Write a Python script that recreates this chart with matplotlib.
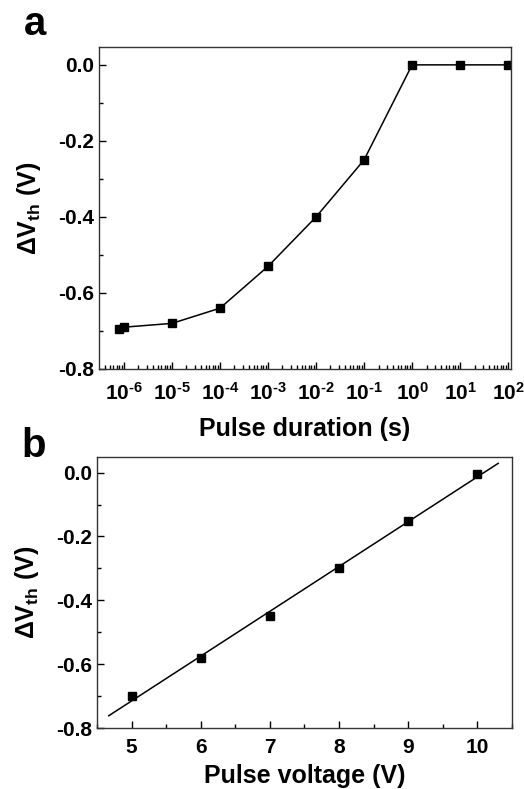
import numpy as np
import matplotlib
matplotlib.use("Agg")
import matplotlib.pyplot as plt
from matplotlib.ticker import LogLocator, MultipleLocator, NullFormatter, FuncFormatter

plt.rcParams['font.family'] = ['Liberation Sans', 'DejaVu Sans']
plt.rcParams['font.weight'] = 'bold'
plt.rcParams['mathtext.fontset'] = 'custom'
plt.rcParams['mathtext.rm'] = 'Liberation Sans:bold'
plt.rcParams['mathtext.it'] = 'Liberation Sans:bold'
plt.rcParams['mathtext.bf'] = 'Liberation Sans:bold'

# Panel a data
duration = [8e-7, 1e-6, 1e-5, 1e-4, 1e-3, 1e-2, 1e-1, 1e0, 1e1, 1e2]
dvth_a = [-0.695, -0.690, -0.680, -0.640, -0.530, -0.400, -0.250, 0.0, 0.0, 0.0]
# Panel b data
voltage = [5, 6, 7, 8, 9, 10]
dvth_b = [-0.70, -0.58, -0.45, -0.30, -0.15, -0.005]
ytick_vals = [0.0, -0.2, -0.4, -0.6, -0.8]
ytick_labels = ['0.0', '-0.2', '-0.4', '-0.6', '-0.8']
xtick_b = [5, 6, 7, 8, 9, 10]

fig = plt.figure(figsize=(5.24, 7.89), dpi=100)
W, H = 524, 789
def ax_rect(x0, y0, x1, y1):
    return [x0 / W, 1 - y1 / H, (x1 - x0) / W, (y1 - y0) / H]

ax1 = fig.add_axes(ax_rect(99, 47, 511, 369))
ax2 = fig.add_axes(ax_rect(97, 457, 512, 728))

tick_fs = 15
label_fs = 18

for ax in (ax1, ax2):
    for s in ax.spines.values():
        s.set_linewidth(1.0)
        s.set_color('#333333')
    ax.tick_params(which='both', direction='in', top=False, right=False,
                   labelsize=tick_fs, width=1.0)
    ax.tick_params(which='major', length=5)
    ax.tick_params(which='minor', length=3)

ylab = r'$\Delta$V$_{\mathregular{th}}$ (V)'

# Panel a
ax1.plot(duration, dvth_a, '-', color='black', lw=1.1, marker='s', ms=5.5)
ax1.set_xscale('log')
ax1.set_xlim(10**-6.52, 10**2.06)
ax1.set_ylim(-0.8, 0.047)
ax1.xaxis.set_major_locator(LogLocator(base=10, numticks=20))
ax1.xaxis.set_minor_locator(LogLocator(base=10, subs=np.arange(2, 10), numticks=20))
ax1.xaxis.set_minor_formatter(NullFormatter())
ax1.xaxis.set_major_formatter(FuncFormatter(
    lambda v, p: r'10$^{\text{%d}}$' % int(round(np.log10(v)))))
ax1.set_yticks(ytick_vals)
ax1.set_yticklabels(ytick_labels, fontweight='bold', fontsize=tick_fs)
ax1.yaxis.set_minor_locator(MultipleLocator(0.1))
ax1.tick_params(axis='x', which='major', pad=9)
ax1.set_xlabel('Pulse duration (s)', fontsize=label_fs, fontweight='bold', labelpad=10)
ax1.set_ylabel(ylab, fontsize=label_fs, fontweight='bold', labelpad=11)

# Panel b
ax2.plot(voltage, dvth_b, 's', color='black', ms=5.5)
coef = np.polyfit(voltage, dvth_b, 1)
xf = np.array([4.67, 10.3])
ax2.plot(xf, np.polyval(coef, xf), '-', color='black', lw=1.1)
ax2.set_xlim(4.5, 10.5)
ax2.set_ylim(-0.8, 0.049)
ax2.set_xticks(xtick_b)
ax2.set_xticklabels([str(v) for v in xtick_b], fontweight='bold', fontsize=tick_fs)
ax2.xaxis.set_minor_locator(MultipleLocator(0.5))
ax2.set_yticks(ytick_vals)
ax2.set_yticklabels(ytick_labels, fontweight='bold', fontsize=tick_fs)
ax2.yaxis.set_minor_locator(MultipleLocator(0.1))
ax2.tick_params(axis='x', which='major', pad=7)
ax2.set_xlabel('Pulse voltage (V)', fontsize=label_fs, fontweight='bold', labelpad=5)
ax2.set_ylabel(ylab, fontsize=label_fs, fontweight='bold', labelpad=11)

fig.text(24 / W, 1 - 35 / H, 'a', fontsize=29, fontweight='bold', va='baseline')
fig.text(21 / W, 1 - 457 / H, 'b', fontsize=29, fontweight='bold', va='baseline')

fig.savefig('out.png', dpi=100)
